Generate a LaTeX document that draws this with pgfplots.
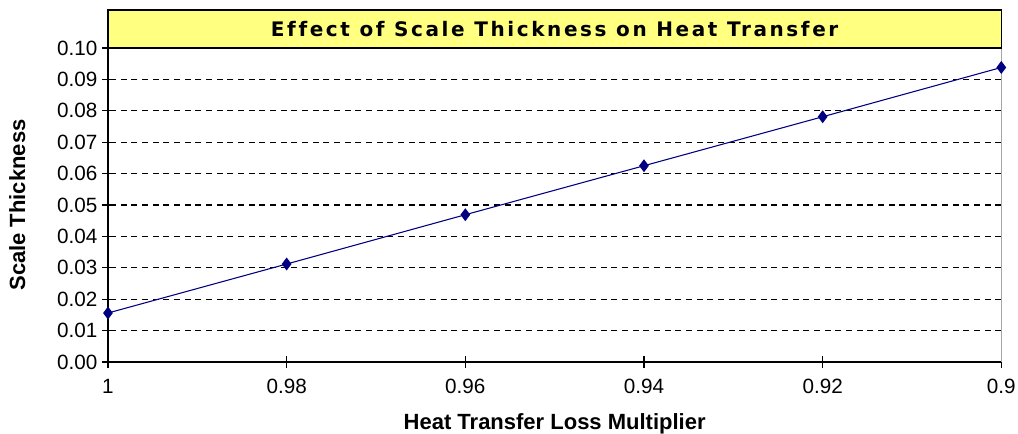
\documentclass[border=0pt]{standalone}
\usepackage{fontspec}
\setmainfont{Liberation Sans}
\newfontfamily\titlefont[LetterSpace=13, Ligatures=CommonOff]{DejaVu Sans}
\usepackage{pgfplots}
\pgfplotsset{compat=1.18}

\definecolor{navyline}{RGB}{0,0,128}
\definecolor{titlefill}{RGB}{255,255,128}

\begin{document}
\begin{tikzpicture}
\begin{axis}[
    scale only axis,
    width=670pt, height=235.5pt,
    xmin=0.9, xmax=1, x dir=reverse,
    ymin=0, ymax=0.1,
    xtick={0.9,0.92,0.94,0.96,0.98,1},
    ytick={0,0.01,...,0.1},
    xticklabel style={/pgf/number format/fixed, /pgf/number format/precision=2, yshift=-5pt},
    yticklabel style={/pgf/number format/fixed, /pgf/number format/precision=2, /pgf/number format/fixed zerofill},
    /pgf/number format/assume math mode=true,
    ticklabel style={font=\fontsize{15.5}{17}\selectfont},
    axis x line=bottom, axis y line=left,
    axis line style={-, black, line width=1pt},
    every tick/.append style={black, line width=1pt},
    tick align=center, major tick length=9pt,
    ymajorgrids, grid style={black, line width=0.8pt, dash pattern=on 4.5pt off 3.5pt},
    xlabel={\bfseries Heat Transfer Loss Multiplier},
    ylabel={\bfseries Scale Thickness},
    label style={font=\fontsize{16.5}{18}\selectfont},
    xlabel style={yshift=-8pt},
    ylabel style={yshift=17pt},
    clip=false,
]
\addplot[color=navyline, line width=0.8pt, mark=diamond*, mark size=4.2pt,
    mark options={fill=navyline}] coordinates {
(1,0.0156)(0.98,0.0312)(0.96,0.0469)(0.94,0.0625)(0.92,0.0781)(0.9,0.0938)
};
\draw[gray!70, line width=1pt] (rel axis cs:1,0) -- (rel axis cs:1,1);
\draw[black, line width=1pt, fill=titlefill] (rel axis cs:0,1) rectangle ([yshift=28.5pt]rel axis cs:1,1);
\node[font=\titlefont\bfseries\fontsize{15}{17}\selectfont] at ([yshift=14.25pt]rel axis cs:0.5,1) {Effect of Scale Thickness on Heat Transfer};
\end{axis}
\pgfresetboundingbox
\path (current axis.south west) ++(-81pt,-54pt) rectangle ++(763.5pt,325.5pt);
\end{tikzpicture}
\end{document}
